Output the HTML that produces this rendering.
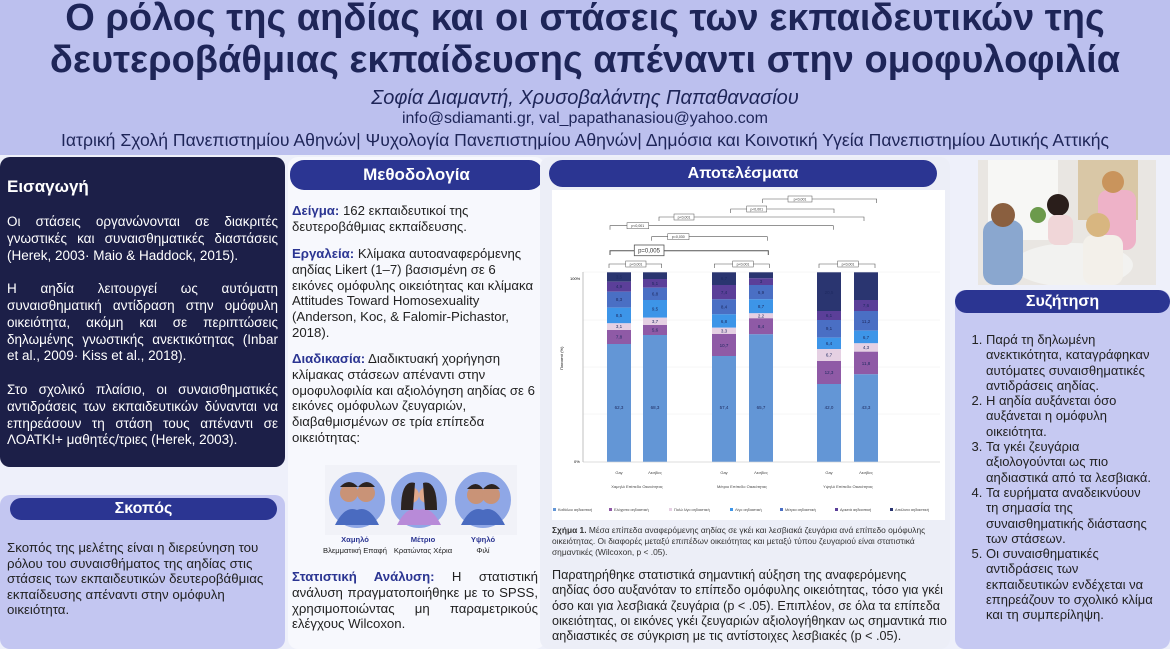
<!DOCTYPE html>
<html><head><meta charset="utf-8">
<style>
*{margin:0;padding:0;box-sizing:border-box}
body{width:1170px;height:649px;overflow:hidden;background:#eef0fa;font-family:"Liberation Sans","DejaVu Sans",sans-serif;position:relative;color:#222}
.a{position:absolute}
.hdr{left:0;top:0;width:1170px;height:155px;background:#bcc0ee;text-align:center;color:#1e2558}
.t{position:absolute;left:0;width:1170px;font-weight:bold;font-size:38px;line-height:41px;white-space:nowrap}
.pill{position:absolute;background:#2b3592;color:#fff;font-weight:bold;text-align:center;border-radius:14px}
.txt{position:absolute;font-size:13.2px;line-height:15.8px;color:#222}
.j{text-align:justify}
.b{color:#2b3592;font-weight:bold}
</style></head><body>
<div class="a hdr">
 <div class="t" style="top:-2px">Ο ρόλος της αηδίας και οι στάσεις των εκπαιδευτικών της</div>
 <div class="t" style="top:40px">δευτεροβάθμιας εκπαίδευσης απέναντι στην ομοφυλοφιλία</div>
 <div class="a" style="left:0;width:1170px;top:87px;font-size:20px;font-style:italic">Σοφία Διαμαντή, Χρυσοβαλάντης Παπαθανασίου</div>
 <div class="a" style="left:0;width:1170px;top:110px;font-size:16px">info@sdiamanti.gr, val_papathanasiou@yahoo.com</div>
 <div class="a" style="left:0;width:1170px;top:130px;font-size:17.6px;white-space:nowrap">Ιατρική Σχολή Πανεπιστημίου Αθηνών| Ψυχολογία Πανεπιστημίου Αθηνών| Δημόσια και Κοινοτική Υγεία Πανεπιστημίου Δυτικής Αττικής</div>
</div>

<!-- Intro -->
<div class="a" style="left:0;top:157px;width:285px;height:310px;background:#1c1f48;border-radius:10px"></div>
<div class="a" style="left:7px;top:177px;font-size:17px;font-weight:bold;color:#fff">Εισαγωγή</div>
<div class="txt j" style="left:7px;top:214px;width:271px;color:#fff;font-size:13.5px;line-height:16.8px">Οι στάσεις οργανώνονται σε διακριτές γνωστικές και συναισθηματικές διαστάσεις (Herek, 2003· Maio &amp; Haddock, 2015).<br><br>Η αηδία λειτουργεί ως αυτόματη συναισθηματική αντίδραση στην ομόφυλη οικειότητα, ακόμη και σε περιπτώσεις δηλωμένης γνωστικής ανεκτικότητας (Inbar et al., 2009· Kiss et al., 2018).<br><br>Στο σχολικό πλαίσιο, οι συναισθηματικές αντιδράσεις των εκπαιδευτικών δύνανται να επηρεάσουν τη στάση τους απέναντι σε ΛΟΑΤΚΙ+ μαθητές/τριες (Herek, 2003).</div>

<!-- Skopos -->
<div class="a" style="left:0;top:495px;width:285px;height:154px;background:#c3c6f1;border-radius:10px"></div>
<div class="pill" style="left:10px;top:498px;width:267px;height:22px;font-size:16px;line-height:22px">Σκοπός</div>
<div class="txt" style="left:7px;top:540px;width:275px;font-size:13.3px;line-height:15.6px">Σκοπός της μελέτης είναι η διερεύνηση του ρόλου του συναισθήματος της αηδίας στις στάσεις των εκπαιδευτικών δευτεροβάθμιας εκπαίδευσης απέναντι στην ομόφυλη οικειότητα.</div>

<!-- Method -->
<div class="a" style="left:288px;top:157px;width:257px;height:492px;background:#f7f8fd;border-radius:10px"></div>
<div class="pill" style="left:290px;top:160px;width:253px;height:30px;font-size:17px;line-height:30px">Μεθοδολογία</div>
<div class="txt" style="left:292px;top:203px;width:220px"><span class="b">Δείγμα:</span> 162 εκπαιδευτικοί της δευτεροβάθμιας εκπαίδευσης.</div>
<div class="txt" style="left:292px;top:246px;width:246px"><span class="b">Εργαλεία:</span> Κλίμακα αυτοαναφερόμενης αηδίας Likert (1–7) βασισμένη σε 6 εικόνες ομόφυλης οικειότητας και κλίμακα Attitudes Toward Homosexuality (Anderson, Koc, &amp; Falomir-Pichastor, 2018).</div>
<div class="txt" style="left:292px;top:351px;width:246px"><span class="b">Διαδικασία:</span> Διαδικτυακή χορήγηση κλίμακας στάσεων απέναντι στην ομοφυλοφιλία και αξιολόγηση αηδίας σε 6 εικόνες ομόφυλων ζευγαριών, διαβαθμισμένων σε τρία επίπεδα οικειότητας:</div>
<svg class="a" style="left:325px;top:465px" width="192" height="70">
 <rect width="192" height="70" fill="#f1f2f8"/>
 <circle cx="32" cy="35" r="28" fill="#8fa7e6"/><path d="M10 60 Q20 40 32 45 Q44 40 54 60Z" fill="#4a6bc0"/><circle cx="24" cy="28" r="9" fill="#c99377"/><circle cx="41" cy="28" r="9" fill="#c99377"/><path d="M15 22 Q24 12 33 22Z M33 22 Q42 12 50 22Z" fill="#2c2320"/>
 <circle cx="94" cy="35" r="28" fill="#8fa7e6"/><path d="M72 60 Q82 40 94 45 Q106 40 116 60Z" fill="#b88ad8"/><circle cx="86" cy="30" r="8" fill="#e0a98c"/><circle cx="102" cy="30" r="8" fill="#e0a98c"/><path d="M76 45 Q76 14 90 18 L88 45Z M112 45 Q112 14 98 18 L100 45Z" fill="#2c2320"/>
 <circle cx="158" cy="35" r="28" fill="#8fa7e6"/><path d="M136 60 Q146 40 158 45 Q170 40 180 60Z" fill="#4a6bc0"/><circle cx="151" cy="30" r="9" fill="#c99377"/><circle cx="166" cy="30" r="9" fill="#c99377"/><path d="M142 24 Q151 14 158 24Z M158 24 Q167 14 175 24Z" fill="#2c2320"/>
</svg>
<div class="a" style="left:325px;top:535px;width:192px;font-size:7.6px;line-height:10.5px;text-align:center">
 <div class="a" style="left:-10px;width:80px"><b style="color:#2b3592">Χαμηλό</b><br>Βλεμματική Επαφή</div>
 <div class="a" style="left:58px;width:80px"><b style="color:#2b3592">Μέτριο</b><br>Κρατώντας Χέρια</div>
 <div class="a" style="left:128px;width:60px"><b style="color:#2b3592">Υψηλό</b><br>Φιλί</div>
</div>
<div class="txt j" style="left:292px;top:569px;width:246px"><span class="b">Στατιστική Ανάλυση:</span> Η στατιστική ανάλυση πραγματοποιήθηκε με το SPSS, χρησιμοποιώντας μη παραμετρικούς ελέγχους Wilcoxon.</div>

<!-- Results -->
<div class="a" style="left:540px;top:157px;width:410px;height:492px;background:#eceef7;border-radius:10px"></div>
<div class="pill" style="left:549px;top:160px;width:388px;height:27px;font-size:16px;line-height:27px">Αποτελέσματα</div>
<svg class="a" style="left:552px;top:190px" width="393" height="330" viewBox="552 190 393 330" font-family="Liberation Sans, sans-serif">
 <rect x="552" y="190" width="393" height="330" fill="#fff"/>
 <g stroke="#eee" stroke-width="0.5"><line x1="583" x2="940" y1="272" y2="272"/><line x1="583" x2="940" y1="320" y2="320"/><line x1="583" x2="940" y1="367" y2="367"/><line x1="583" x2="940" y1="414" y2="414"/></g>
 <line x1="583" x2="583" y1="272" y2="462" stroke="#999" stroke-width="0.6"/>
 <line x1="583" x2="940" y1="462" y2="462" stroke="#bbb" stroke-width="0.6"/>
 <text x="570" y="280" font-size="4">100%</text><text x="574" y="463" font-size="4">0%</text>
 <text x="0" y="0" font-size="4" transform="translate(563 370) rotate(-90)">Ποσοστό (%)</text>
 <g stroke="#555" stroke-width="0.6" fill="none">
  <path d="M762.7 203V199H876.7V203"/><path d="M730.7 213V209H834V213"/><path d="M659 221V217H864V221"/>
  <path d="M610 229.7V225.7H833.3V229.7"/><path d="M651.7 240.7V236.7H767.3V240.7"/>
  <path d="M610 255V250.7H768.3V255" stroke-width="1"/>
  <path d="M609 268V264H661.7V268"/><path d="M714.3 268V264H769.3V268"/><path d="M819 268V264H875V268"/>
 </g>
 <g fill="#fff" stroke="#555" stroke-width="0.5">
  <rect x="788" y="196" width="24" height="6"/><rect x="746.7" y="206" width="20" height="6"/><rect x="674" y="214" width="20" height="6"/>
  <rect x="627" y="222.7" width="21.7" height="6"/><rect x="667.7" y="233.7" width="21.3" height="6"/>
  <rect x="634.3" y="245" width="29.7" height="10.7" stroke-width="0.8"/>
  <rect x="625.7" y="261" width="20.3" height="6"/><rect x="732.7" y="261" width="20.6" height="6"/><rect x="837.7" y="261" width="20.6" height="6"/>
 </g>
 <g font-size="3.5" fill="#333" text-anchor="middle">
  <text x="800" y="200.5">p&lt;0,001</text><text x="756.7" y="210.5">p&lt;0,001</text><text x="684" y="218.5">p&lt;0,001</text>
  <text x="637.8" y="227.2">p&lt;0,001</text><text x="678.3" y="238.2">p=0,030</text>
  <text x="649" y="252.5" font-size="6">p=0,005</text>
  <text x="636" y="265.5">p&lt;0,001</text><text x="743" y="265.5">p&lt;0,001</text><text x="848" y="265.5">p&lt;0,001</text>
 </g>
 <g font-size="4" fill="#444" text-anchor="middle">
  <text x="619" y="474">Gay</text><text x="655" y="474">Λεσβίες</text>
  <text x="724" y="474">Gay</text><text x="761" y="474">Λεσβίες</text>
  <text x="829" y="474">Gay</text><text x="866" y="474">Λεσβίες</text>
  <text x="637" y="488">Χαμηλό Επίπεδο Οικειότητας</text><text x="742" y="488">Μέτριο Επίπεδο Οικειότητας</text><text x="848" y="488">Υψηλό Επίπεδο Οικειότητας</text>
 </g>
 <g font-size="3.8" fill="#444">
  <rect x="553" y="508" width="3" height="3" fill="#6396d6"/><text x="558" y="511">Καθόλου αηδιαστική</text>
  <rect x="609" y="508" width="3" height="3" fill="#8f5aa6"/><text x="614" y="511">Ελάχιστα αηδιαστική</text>
  <rect x="669" y="508" width="3" height="3" fill="#e5d0e3"/><text x="674" y="511">Πολύ λίγο αηδιαστική</text>
  <rect x="730" y="508" width="3" height="3" fill="#3d95e8"/><text x="735" y="511">Λίγο αηδιαστική</text>
  <rect x="780" y="508" width="3" height="3" fill="#4a6fc4"/><text x="785" y="511">Μέτρια αηδιαστική</text>
  <rect x="835" y="508" width="3" height="3" fill="#5b3f99"/><text x="840" y="511">Αρκετά αηδιαστική</text>
  <rect x="890" y="508" width="3" height="3" fill="#2a3570"/><text x="895" y="511">Απόλυτα αηδιαστική</text>
 </g>
 <g>
 <g transform="translate(607 0)">
  <rect y="272.3" width="24" height="9.4" fill="#2a3570"/><rect y="281.7" width="24" height="10" fill="#5b3f99"/><rect y="291.7" width="24" height="16" fill="#4a6fc4"/><rect y="307.7" width="24" height="15.6" fill="#3d95e8"/><rect y="323.3" width="24" height="6.7" fill="#e5d0e3"/><rect y="330" width="24" height="14" fill="#8f5aa6"/><rect y="344" width="24" height="117.7" fill="#6396d6"/>
  <g font-size="4.5" fill="#1e2a60" text-anchor="middle"><text x="12" y="278.5">3,5</text><text x="12" y="288">4,9</text><text x="12" y="301">8,3</text><text x="12" y="317">8,5</text><text x="12" y="328">3,1</text><text x="12" y="338.5">7,8</text><text x="12" y="409">62,3</text></g>
 </g>
 <g transform="translate(643 0)">
  <rect y="272.3" width="24" height="6.7" fill="#2a3570"/><rect y="279" width="24" height="8.7" fill="#5b3f99"/><rect y="287.7" width="24" height="12.3" fill="#4a6fc4"/><rect y="300" width="24" height="17.7" fill="#3d95e8"/><rect y="317.7" width="24" height="7.3" fill="#e5d0e3"/><rect y="325" width="24" height="10" fill="#8f5aa6"/><rect y="335" width="24" height="126.7" fill="#6396d6"/>
  <g font-size="4.5" fill="#1e2a60" text-anchor="middle"><text x="12" y="285">5,1</text><text x="12" y="295.5">6,8</text><text x="12" y="310.5">9,5</text><text x="12" y="323">3,7</text><text x="12" y="331.5">5,6</text><text x="12" y="409">68,3</text></g>
 </g>
 <g transform="translate(712 0)">
  <rect y="272.3" width="24" height="12.7" fill="#2a3570"/><rect y="285" width="24" height="14.3" fill="#5b3f99"/><rect y="299.3" width="24" height="15" fill="#4a6fc4"/><rect y="314.3" width="24" height="13.4" fill="#3d95e8"/><rect y="327.7" width="24" height="6.3" fill="#e5d0e3"/><rect y="334" width="24" height="22" fill="#8f5aa6"/><rect y="356" width="24" height="105.7" fill="#6396d6"/>
  <g font-size="4.5" fill="#1e2a60" text-anchor="middle"><text x="12" y="280">6,7</text><text x="12" y="294">7,4</text><text x="12" y="308.5">8,4</text><text x="12" y="323">6,8</text><text x="12" y="332.5">3,3</text><text x="12" y="347">10,7</text><text x="12" y="409">57,4</text></g>
 </g>
 <g transform="translate(749 0)">
  <rect y="272.3" width="24" height="6" fill="#2a3570"/><rect y="278.3" width="24" height="6.7" fill="#5b3f99"/><rect y="285" width="24" height="14.3" fill="#4a6fc4"/><rect y="299.3" width="24" height="14" fill="#3d95e8"/><rect y="313.3" width="24" height="5" fill="#e5d0e3"/><rect y="318.3" width="24" height="16" fill="#8f5aa6"/><rect y="334.3" width="24" height="127.4" fill="#6396d6"/>
  <g font-size="4.5" fill="#1e2a60" text-anchor="middle"><text x="12" y="283">3</text><text x="12" y="294">6,9</text><text x="12" y="308">8,7</text><text x="12" y="317.5">2,2</text><text x="12" y="328">8,4</text><text x="12" y="409">65,7</text></g>
 </g>
 <g transform="translate(817 0)">
  <rect y="272.3" width="24" height="38.7" fill="#2a3570"/><rect y="311" width="24" height="9" fill="#5b3f99"/><rect y="320" width="24" height="17.7" fill="#4a6fc4"/><rect y="337.7" width="24" height="11.3" fill="#3d95e8"/><rect y="349" width="24" height="12" fill="#e5d0e3"/><rect y="361" width="24" height="23" fill="#8f5aa6"/><rect y="384" width="24" height="77.7" fill="#6396d6"/>
  <g font-size="4.5" fill="#1e2a60" text-anchor="middle"><text x="12" y="294">20,5</text><text x="12" y="317">6,1</text><text x="12" y="330">9,1</text><text x="12" y="345">6,4</text><text x="12" y="356.5">6,7</text><text x="12" y="374">12,3</text><text x="12" y="409">42,0</text></g>
 </g>
 <g transform="translate(854 0)">
  <rect y="272.3" width="24" height="27.7" fill="#2a3570"/><rect y="300" width="24" height="11" fill="#5b3f99"/><rect y="311" width="24" height="19.7" fill="#4a6fc4"/><rect y="330.7" width="24" height="12.6" fill="#3d95e8"/><rect y="343.3" width="24" height="8.4" fill="#e5d0e3"/><rect y="351.7" width="24" height="22.6" fill="#8f5aa6"/><rect y="374.3" width="24" height="87.4" fill="#6396d6"/>
  <g font-size="4.5" fill="#1e2a60" text-anchor="middle"><text x="12" y="307">7,6</text><text x="12" y="323">11,2</text><text x="12" y="339">6,7</text><text x="12" y="349">4,3</text><text x="12" y="365">11,8</text><text x="12" y="409">43,3</text></g>
 </g>
 </g>
</svg>
<div class="a" style="left:552px;top:525px;width:390px;font-size:8.4px;line-height:11px;color:#333"><b>Σχήμα 1.</b> Μέσα επίπεδα αναφερόμενης αηδίας σε γκέι και λεσβιακά ζευγάρια ανά επίπεδο ομόφυλης οικειότητας. Οι διαφορές μεταξύ επιπέδων οικειότητας και μεταξύ τύπου ζευγαριού είναι στατιστικά σημαντικές (Wilcoxon, p &lt; .05).</div>
<div class="txt" style="left:552px;top:568px;width:395px;font-size:12.6px;line-height:15.3px">Παρατηρήθηκε στατιστικά σημαντική αύξηση της αναφερόμενης αηδίας όσο αυξανόταν το επίπεδο ομόφυλης οικειότητας, τόσο για γκέι όσο και για λεσβιακά ζευγάρια (p &lt; .05). Επιπλέον, σε όλα τα επίπεδα οικειότητας, οι εικόνες γκέι ζευγαριών αξιολογήθηκαν ως σημαντικά πιο αηδιαστικές σε σύγκριση με τις αντίστοιχες λεσβιακές (p &lt; .05).</div>

<!-- Photo -->
<svg class="a" style="left:978px;top:160px" width="178" height="125">
 <rect width="178" height="125" fill="#e9e6e2"/>
 <rect x="10" y="0" width="70" height="80" fill="#f7f7f5"/>
 <rect x="100" y="0" width="60" height="60" fill="#d9c7a6"/>
 <ellipse cx="95" cy="105" rx="60" ry="22" fill="#f2f2f0"/>
 <rect x="5" y="60" width="40" height="65" fill="#8aa7cf" rx="12"/><circle cx="25" cy="55" r="12" fill="#8a5f3f"/>
 <circle cx="80" cy="45" r="11" fill="#2a1e1b"/><rect x="70" y="55" width="25" height="30" fill="#f0d6d8" rx="8"/>
 <rect x="120" y="30" width="38" height="60" fill="#eeb2c8" rx="10"/><circle cx="135" cy="22" r="11" fill="#c9945c"/>
 <rect x="105" y="75" width="40" height="50" fill="#f3f0ea" rx="10"/><circle cx="120" cy="65" r="12" fill="#d8b680"/>
 <circle cx="60" cy="55" r="8" fill="#6c9a4c"/>
</svg>

<!-- Discussion -->
<div class="a" style="left:955px;top:290px;width:215px;height:359px;background:#c6c9f2;border-radius:10px"></div>
<div class="pill" style="left:955px;top:290px;width:215px;height:23px;font-size:16px;line-height:23px">Συζήτηση</div>
<ol class="txt" style="left:970px;top:332px;width:185px;padding-left:16px;font-size:13px;line-height:15.3px">
 <li>Παρά τη δηλωμένη ανεκτικότητα, καταγράφηκαν αυτόματες συναισθηματικές αντιδράσεις αηδίας.</li>
 <li>Η αηδία αυξάνεται όσο αυξάνεται η ομόφυλη οικειότητα.</li>
 <li>Τα γκέι ζευγάρια αξιολογούνται ως πιο αηδιαστικά από τα λεσβιακά.</li>
 <li>Τα ευρήματα αναδεικνύουν τη σημασία της συναισθηματικής διάστασης των στάσεων.</li>
 <li>Οι συναισθηματικές αντιδράσεις των εκπαιδευτικών ενδέχεται να επηρεάζουν το σχολικό κλίμα και τη συμπερίληψη.</li>
</ol>
</body></html>
